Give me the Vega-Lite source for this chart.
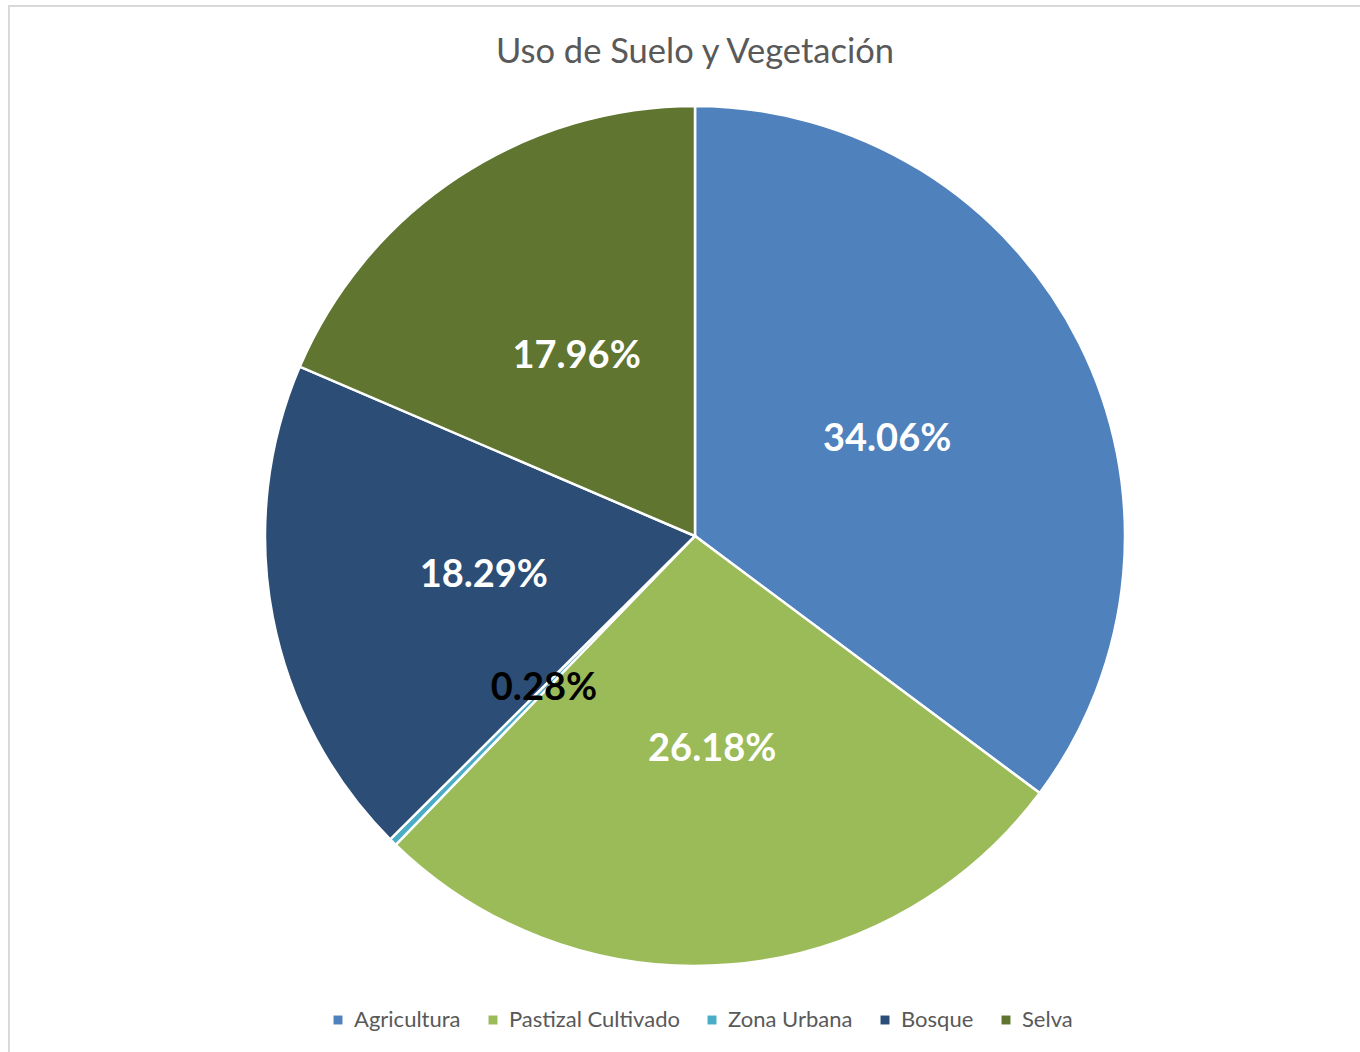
{
  "$schema": "https://vega.github.io/schema/vega-lite/v6.json",
  "autosize": "none",
  "padding": {"left": 9, "top": 6, "right": 0, "bottom": 0},
  "width": 1372,
  "height": 1060,
  "background": "white",
  "view": {"stroke": "#D9D9D9", "strokeWidth": 2, "fill": "white"},
  "title": {
    "text": "Uso de Suelo y Vegetación",
    "font": "Lato",
    "fontSize": 34.5,
    "fontWeight": "normal",
    "color": "#595959",
    "anchor": "middle",
    "baseline": "top",
    "offset": -64
  },
  "data": {
    "values": [
      {"Categoria": "Agricultura", "Porcentaje": 0.3406, "orden": 1},
      {"Categoria": "Pastizal Cultivado", "Porcentaje": 0.2618, "orden": 2},
      {"Categoria": "Zona Urbana", "Porcentaje": 0.0028, "orden": 3},
      {"Categoria": "Bosque", "Porcentaje": 0.1829, "orden": 4},
      {"Categoria": "Selva", "Porcentaje": 0.1796, "orden": 5}
    ]
  },
  "encoding": {
    "theta": {"field": "Porcentaje", "type": "quantitative", "stack": true},
    "order": {"field": "orden", "type": "quantitative"}
  },
  "layer": [
    {
      "mark": {"type": "arc", "outerRadius": 430, "stroke": "white", "strokeWidth": 2.5},
      "encoding": {
        "color": {
          "field": "Categoria",
          "type": "nominal",
          "sort": ["Agricultura", "Pastizal Cultivado", "Zona Urbana", "Bosque", "Selva"],
          "scale": {
            "domain": ["Agricultura", "Pastizal Cultivado", "Zona Urbana", "Bosque", "Selva"],
            "range": ["#4F81BD", "#9BBB59", "#4BACC6", "#2C4D75", "#5F7530"]
          },
          "legend": {
            "title": null,
            "orient": "none",
            "legendX": 318,
            "legendY": 1003,
            "direction": "horizontal",
            "symbolType": "square",
            "symbolSize": 80,
            "symbolStrokeWidth": 0,
            "labelFont": "Lato",
            "labelFontSize": 22,
            "labelColor": "#595959",
            "labelOffset": 5,
            "labelLimit": 400,
            "columnPadding": 21
          }
        }
      }
    },
    {
      "mark": {"type": "text", "radius": 215, "font": "Lato", "fontSize": 38, "fontWeight": "bold"},
      "encoding": {
        "text": {"field": "Porcentaje", "type": "quantitative", "format": ".2%"},
        "color": {
          "condition": {"test": "datum.Categoria === 'Zona Urbana'", "value": "black"},
          "value": "white"
        }
      }
    }
  ]
}
